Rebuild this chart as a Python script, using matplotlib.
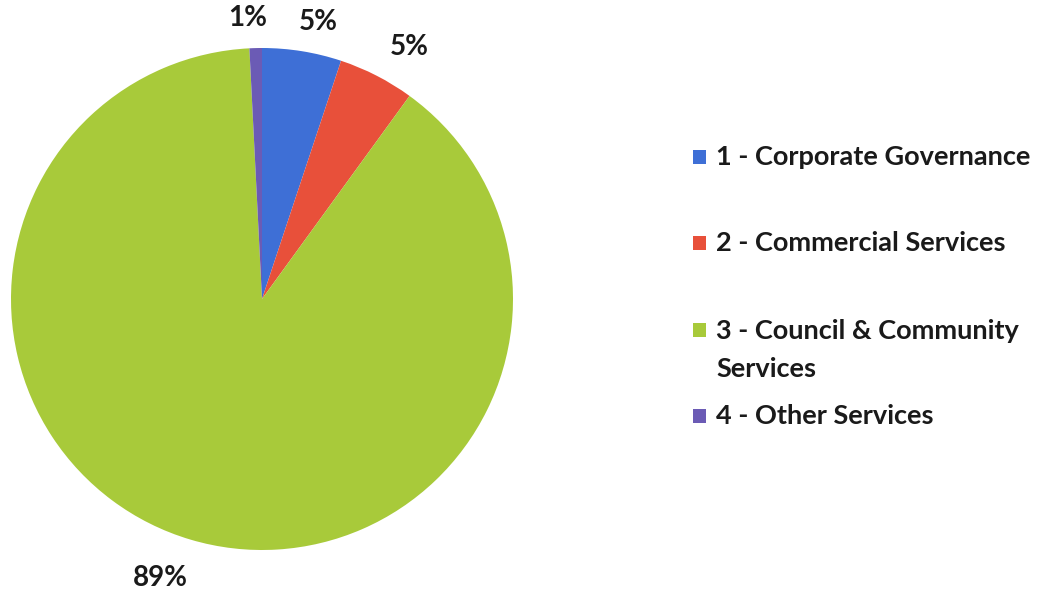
import numpy as np
import matplotlib.pyplot as plt
from matplotlib.patches import Rectangle

categories = ["1 - Corporate Governance", "2 - Commercial Services",
              "3 - Council & Community\nServices", "4 - Other Services"]
shares = [5.1, 4.9, 89.2, 0.8]
colors = ["#3e6fd6", "#e8503a", "#a8ca3a", "#6b5bb5"]

# label distance from centre (in radii) and small angle nudges (degrees)
label_r = [1.126, 1.162, 1.183, 1.121]
label_nudge = [-2.25, -3.1, -3.5, 1.4]

plt.rcParams['font.family'] = ['Lato', 'DejaVu Sans']
plt.rcParams['font.weight'] = 'bold'

fig = plt.figure(figsize=(10.47, 5.95), dpi=100)
W, H = 1047, 595
cx, cy, r = 262, 296, 251
ax = fig.add_axes([(cx - r) / W, (cy - r) / H, 2 * r / W, 2 * r / H])

wedges, _ = ax.pie(shares, colors=colors, startangle=90, counterclock=False,
                   radius=1, wedgeprops=dict(linewidth=0))
ax.set_xlim(-1, 1)
ax.set_ylim(-1, 1)
ax.set_aspect('equal')
ax.axis('off')

for w, v, d, n in zip(wedges, shares, label_r, label_nudge):
    ang = np.deg2rad((w.theta1 + w.theta2) / 2 + n)
    ax.text(d * np.cos(ang), d * np.sin(ang), f"{round(v):.0f}%",
            ha='center', va='center', fontsize=20, fontweight='bold',
            color='#1a1a1a', clip_on=False)

# legend on the right
rows_y = [157, 243, 330, 416]
for w, lab, y in zip(wedges, categories, rows_y):
    fig.patches.append(Rectangle((693 / W, 1 - (y + 7) / H), 13 / W, 14 / H,
                                 transform=fig.transFigure,
                                 facecolor=w.get_facecolor(), edgecolor='none'))
    if '\n' in lab:
        fig.text(716 / W, 1 - (y - 11) / H, lab, ha='left', va='top',
                 fontsize=19.5, fontweight='bold', color='#1a1a1a',
                 linespacing=1.7)
    else:
        fig.text(716 / W, 1 - y / H, lab, ha='left', va='center',
                 fontsize=19.5, fontweight='bold', color='#1a1a1a')

fig.savefig("out.png", dpi=100, facecolor='white')
